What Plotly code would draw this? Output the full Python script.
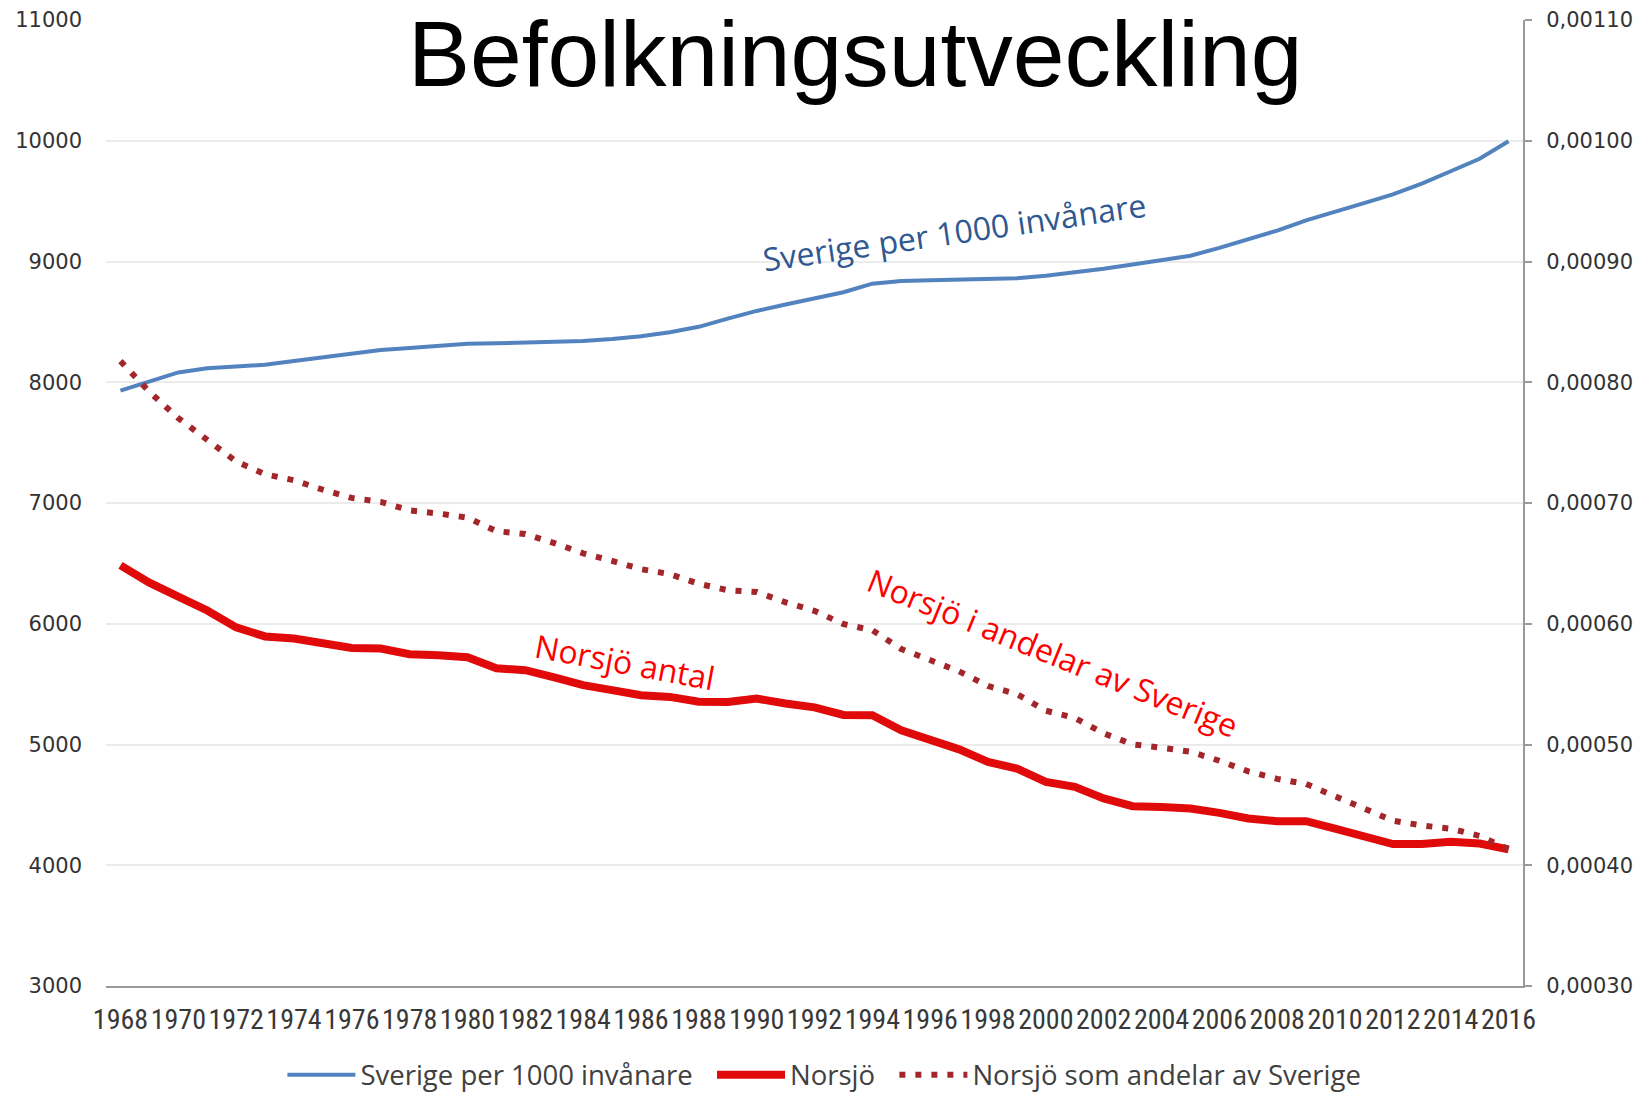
import plotly.graph_objects as go

years = list(range(1968, 2017))

sverige_per_1000 = [
    7931.2, 8004.3, 8081.2, 8115.2, 8129.1, 8144.4, 8176.7, 8208.4, 8236.2, 8267.1,
    8284.4, 8303.0, 8317.9, 8323.0, 8327.5, 8330.6, 8342.6, 8358.1, 8381.5, 8414.1,
    8458.9, 8527.0, 8590.6, 8644.1, 8692.0, 8745.1, 8816.4, 8837.5, 8844.5, 8847.6,
    8854.3, 8861.4, 8882.8, 8909.1, 8940.8, 8975.7, 9011.4, 9047.8, 9113.3, 9182.9,
    9256.3, 9340.7, 9415.6, 9482.9, 9555.9, 9644.9, 9747.4, 9851.0, 9995.2,
]

norsjo = [
    6484, 6340, 6225, 6110, 5970, 5895, 5878, 5836, 5800, 5795,
    5748, 5740, 5722, 5632, 5615, 5555, 5492, 5450, 5408, 5394,
    5355, 5353, 5380, 5340, 5308, 5245, 5243, 5118, 5041, 4960,
    4856, 4801, 4690, 4650, 4553, 4489, 4482, 4470, 4434, 4387,
    4365, 4365, 4304, 4241, 4175, 4176, 4194, 4180, 4131,
]

norsjo_andel = [
    0.00081753, 0.00079207, 0.00077030, 0.00075291, 0.00073440, 0.00072381, 0.00071887,
    0.00071098, 0.00070421, 0.00070097, 0.00069384, 0.00069131, 0.00068792, 0.00067668,
    0.00067427, 0.00066682, 0.00065831, 0.00065206, 0.00064523, 0.00064107, 0.00063306,
    0.00062777, 0.00062627, 0.00061776, 0.00061068, 0.00059976, 0.00059469, 0.00057912,
    0.00056996, 0.00056060, 0.00054844, 0.00054179, 0.00052799, 0.00052194, 0.00050924,
    0.00050013, 0.00049736, 0.00049404, 0.00048654, 0.00047773, 0.00047157, 0.00046731,
    0.00045711, 0.00044723, 0.00043691, 0.00043297, 0.00043027, 0.00042432, 0.00041330,
]

title_text = "Befolkningsutveckling"
label_sverige = "Sverige per 1000 invånare"
label_norsjo = "Norsjö"
label_andel = "Norsjö som andelar av Sverige"

BLUE = "#5383BE"
RED = "#E00A0A"
DARKRED = "#A3262A"
AXIS_GREY = "#9A9A9A"
GRID = "#EBEBEB"
NB = "\u00a0\u00a0"

fig = go.Figure()
fig.add_trace(go.Scatter(x=years, y=sverige_per_1000, name=label_sverige + NB, mode="lines",
                         line=dict(color=BLUE, width=4)))
fig.add_trace(go.Scatter(x=years, y=norsjo, name=label_norsjo + NB, mode="lines",
                         line=dict(color=RED, width=8)))
fig.add_trace(go.Scatter(x=years, y=norsjo_andel, name=label_andel, mode="lines",
                         yaxis="y2", line=dict(color=DARKRED, width=6, dash="6px,10px")))

fig.update_layout(
    width=1644, height=1094,
    margin=dict(l=106, r=121, t=20, b=108, autoexpand=False),
    paper_bgcolor="white", plot_bgcolor="white",
    separators=", ",
    showlegend=True,
    legend=dict(orientation="h", x=0.507, y=-0.092, xanchor="center", yanchor="middle",
                font=dict(family="Open Sans", size=27.5, color="#404040"),
                itemwidth=68, tracegroupgap=0),
    xaxis=dict(range=[1967.5, 2016.5], tick0=1968, dtick=2, showgrid=False,
               showline=True, linecolor=AXIS_GREY, linewidth=2, ticks="",
               ticklabelstandoff=7,
               tickfont=dict(family="Liberation Sans Narrow, Arial Narrow, Roboto Condensed, sans-serif",
                             size=28, color="#383838"),
               zeroline=False),
    yaxis=dict(range=[3000, 11000], dtick=1000, tickformat="d", showgrid=True,
               gridcolor=GRID, gridwidth=2,
               showline=False, zeroline=False, ticks="", ticklabelstandoff=23,
               tickfont=dict(family="DejaVu Sans", size=21, color="#333333")),
    yaxis2=dict(range=[0.0003, 0.0011], dtick=0.0001, tickformat=".5f", overlaying="y",
                side="right", showgrid=False, zeroline=False, showline=True,
                linecolor=AXIS_GREY, linewidth=2, ticks="outside", ticklen=7,
                tickcolor=AXIS_GREY, tickwidth=2, ticklabelstandoff=10,
                tickfont=dict(family="DejaVu Sans", size=21, color="#333333")),
)

fig.add_annotation(text=title_text, xref="paper", yref="paper", x=0.5286, y=0.965,
                   xanchor="center", yanchor="middle", showarrow=False,
                   font=dict(family="Liberation Sans", size=93, color="black"))

fig.add_annotation(text="Sverige per 1000 invånare", xref="x", yref="y", x=1996.85, y=9248,
                   textangle=-8.2, showarrow=False,
                   font=dict(family="Open Sans", size=32, color="#2F5891"))
fig.add_annotation(text="Norsjö antal", xref="x", yref="y", x=1985.45, y=5690,
                   textangle=10.5, showarrow=False,
                   font=dict(family="Open Sans", size=32, color="#FF0000"))
fig.add_annotation(text="Norsjö i andelar av Sverige", xref="x", yref="y", x=2000.25, y=5764,
                   textangle=22, showarrow=False,
                   font=dict(family="Open Sans", size=32, color="#FF0000"))

fig.write_html("out.html", config={"displayModeBar": False},
               post_script="document.body.style.margin='0';")
